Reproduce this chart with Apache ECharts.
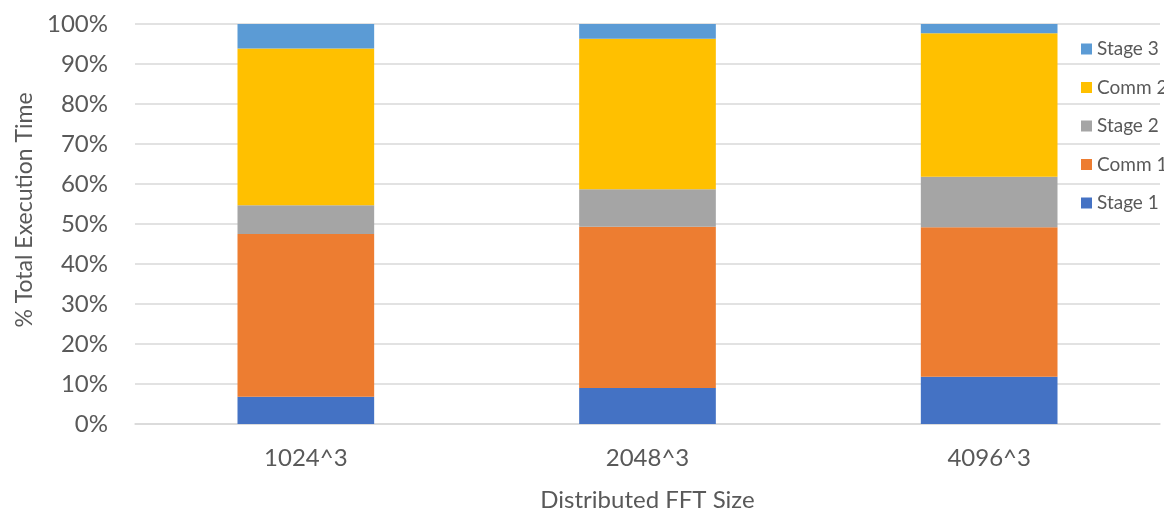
<!DOCTYPE html>
<html>
<head>
<meta charset="utf-8">
<script src="https://cdn.jsdelivr.net/npm/echarts@6/dist/echarts.min.js"></script>
<style>
  html, body { margin: 0; padding: 0; background: #fff; }
  #chart { width: 1164px; height: 510px; }
</style>
</head>
<body>
<div id="chart"></div>
<script>
// FFT sizes on the category axis
const categories = ['1024^3', '2048^3', '4096^3'];

// Share of total execution time per phase (%), bottom to top of each stack
const stage1 = [6.8, 9.0, 11.8];
const comm1  = [40.7, 40.3, 37.4];
const stage2 = [7.2, 9.4, 12.6];
const comm2  = [39.2, 37.6, 35.9];
const stage3 = [6.1, 3.7, 2.3];

const yTicks = [0, 10, 20, 30, 40, 50, 60, 70, 80, 90, 100];

const FONT = 'Lato, "Open Sans", sans-serif';
const TEXT = '#595959';

const series = [
  { name: 'Stage 1', data: stage1, color: '#4472C4' },
  { name: 'Comm 1',  data: comm1,  color: '#ED7D31' },
  { name: 'Stage 2', data: stage2, color: '#A5A5A5' },
  { name: 'Comm 2',  data: comm2,  color: '#FFC000' },
  { name: 'Stage 3', data: stage3, color: '#5B9BD5' }
].map(s => ({
  name: s.name,
  type: 'bar',
  stack: 'total',
  barWidth: '40%',
  data: s.data,
  itemStyle: { color: s.color },
  emphasis: { disabled: true }
}));

const chart = echarts.init(document.getElementById('chart'), null, { renderer: 'canvas' });
chart.setOption({
  animation: false,
  backgroundColor: '#ffffff',
  textStyle: { fontFamily: FONT },
  grid: { left: 135, right: 4, top: 24, bottom: 86, containLabel: false, outerBoundsMode: 'none' },
  legend: {
    orient: 'vertical',
    left: 1081,
    top: 39,
    padding: 0,
    icon: 'rect',
    itemWidth: 11,
    itemHeight: 11,
    itemGap: 18.5,
    data: ['Stage 3', 'Comm 2', 'Stage 2', 'Comm 1', 'Stage 1'],
    textStyle: { color: TEXT, fontSize: 19, fontFamily: FONT, lineHeight: 20 },
    z: 10
  },
  xAxis: {
    type: 'category',
    data: categories,
    name: 'Distributed FFT Size',
    nameLocation: 'middle',
    nameGap: 64,
    nameTextStyle: { color: TEXT, fontSize: 24, fontFamily: FONT },
    axisLine: { show: true, lineStyle: { color: '#D9D9D9', width: 1.5 } },
    axisTick: { show: false },
    axisLabel: { color: TEXT, fontSize: 24, margin: 22, fontFamily: FONT }
  },
  yAxis: {
    type: 'value',
    min: yTicks[0],
    max: yTicks[yTicks.length - 1],
    interval: 10,
    name: '% Total Execution Time',
    nameLocation: 'middle',
    nameGap: 99,
    nameTextStyle: { color: TEXT, fontSize: 23, fontFamily: FONT, padding: [0, 0, 0, 28] },
    axisLine: { show: false },
    axisTick: { show: false },
    axisLabel: { color: TEXT, fontSize: 24, margin: 27, fontFamily: FONT, formatter: v => v + '%' },
    splitLine: { show: true, lineStyle: { color: '#D9D9D9', width: 1.5 } }
  },
  series: series
});
</script>
</body>
</html>
